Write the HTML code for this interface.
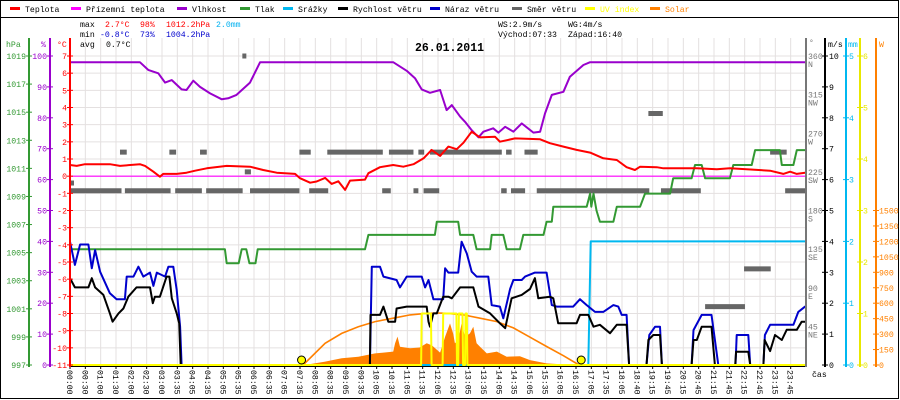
<!DOCTYPE html>
<html><head><meta charset="utf-8">
<style>
html,body{margin:0;padding:0;background:#fff;}
svg{display:block;font-family:"Liberation Mono",monospace;}
</style></head>
<body>
<svg id="chart" width="900" height="400" viewBox="0 0 900 400" xmlns="http://www.w3.org/2000/svg">
<rect x="0.5" y="0.5" width="898" height="398" fill="#fff" stroke="#000"/>
<line x1="0" y1="17.5" x2="899" y2="17.5" stroke="#000"/>
<g id="grid"></g>
<g id="solar"></g>
<g id="series"></g>
<g id="axes"></g>
<g id="legend" font-size="8.2"></g>
<g font-size="8.2">
<text x="80" y="27">max</text><text x="105" y="27" fill="#f00">2.7°C</text><text x="140" y="27" fill="#f00">98%</text><text x="166" y="27" fill="#f00">1012.2hPa</text><text x="216" y="27" fill="#00b0f0">2.0mm</text>
<text x="80" y="37">min</text><text x="100" y="37" fill="#00c">-0.8°C</text><text x="140" y="37" fill="#00c">73%</text><text x="166" y="37" fill="#00c">1004.2hPa</text>
<text x="80" y="47">avg</text><text x="106" y="47">0.7°C</text>
<text x="498" y="27">WS:2.9m/s</text><text x="568" y="27">WG:4m/s</text>
<text x="498" y="37">Východ:07:33</text><text x="568" y="37">Západ:16:40</text>
</g>
<text x="415" y="51" font-size="11.5" font-weight="bold">26.01.2011</text>
</svg>
<script>
const xLabels=["00:00","00:30","01:00","01:30","02:00","02:30","03:00","03:35","04:05","04:35","05:05","05:35","06:05","06:35","07:05","07:35","08:05","08:35","09:05","09:35","10:05","10:35","11:05","11:35","12:05","12:35","13:05","13:35","14:05","14:35","15:05","15:35","16:05","16:35","17:05","17:35","18:05","18:40","19:15","19:45","20:15","20:45","21:15","21:45","22:15","22:45","23:15","23:45"];
const tempT=[0,0.22,0.49,1.3,1.63,2.28,2.45,2.72,2.93,3.04,3.48,3.8,4.08,4.46,5.11,5.87,6.3,6.74,7.34,7.5,7.83,8.04,8.32,8.53,8.75,8.97,9.13,9.62,9.73,10.11,10.54,10.87,11.2,11.53,11.79,12.07,12.34,12.61,12.83,13.1,13.37,13.86,14.02,14.51,15.33,15.65,16.09,16.52,16.96,17.39,17.83,18.15,18.42,18.59,19.13,19.35,20.44,21.09,21.52,22.83,23.26,23.48,23.7,23.97];
const tempV=[0.65,0.6,0.7,0.7,0.6,0.7,0.6,0.26,-0.03,0.13,0.13,0.2,0.32,0.46,0.6,0.55,0.36,0.2,0.13,-0.12,-0.38,-0.31,-0.1,-0.45,-0.3,-0.8,-0.26,-0.2,0.17,0.52,0.65,0.55,0.7,1.04,1.53,1.18,1.72,1.57,1.95,2.59,2.26,2.3,2.01,2.2,2.15,1.92,1.72,1.53,1.37,1.04,0.94,0.52,0.36,0.55,0.52,0.46,0.46,0.4,0.46,0.32,0.13,0.26,0.13,0.2];
const feelT=[0,24];
const feelV=[0,0];
const humT=[0,2.28,2.55,2.88,3.1,3.32,3.64,3.8,4.02,4.24,4.57,4.95,5.16,5.43,5.87,6.2,10.54,10.98,11.25,11.47,11.74,12.07,12.28,12.45,12.72,12.88,13.1,13.32,13.48,13.8,13.97,14.19,14.46,14.73,15.11,15.33,15.49,15.71,16.09,16.3,16.74,16.96,24];
const humV=[98,98,95.5,94.4,91.4,92.2,89.2,89,92,90,87.9,86,86.3,87.4,91.4,98,98,95.2,92.8,89.2,88.1,89,82.5,84.1,80.4,78.7,76,73.7,75.5,76.6,75.2,77.1,75.5,78.2,75.2,75.5,81.4,87.4,88.4,93.3,97.1,98,98];
const presT=[0,5.05,5.11,5.5,5.6,5.75,5.85,6.05,6.12,9.62,9.73,11.9,11.96,12.66,12.72,13.15,13.26,13.7,13.75,14.13,14.24,14.67,14.78,15.44,15.54,15.71,15.76,16.85,16.96,17.0,17.07,17.17,17.28,17.72,17.83,18.59,18.75,19.57,19.67,20.27,20.38,20.6,20.71,21.52,21.63,22.23,22.34,23.15,23.21,23.59,23.7,24];
const presV=[1005.24,1005.24,1004.25,1004.25,1005.24,1005.24,1004.25,1004.25,1005.24,1005.24,1006.26,1006.26,1007.2,1007.2,1006.26,1006.26,1005.24,1005.24,1006.26,1006.26,1005.24,1005.24,1006.26,1006.26,1007.2,1007.2,1008.27,1008.27,1009.2,1008.27,1009.2,1008.0,1007.2,1007.2,1008.27,1008.27,1009.2,1009.2,1010.3,1010.3,1011.24,1011.24,1010.3,1010.3,1011.24,1011.24,1012.3,1012.3,1011.24,1011.24,1012.3,1012.3];
const rainT=[0,16.9,16.98,24];
const rainV=[0,0,2.0,2.0];
const windT=[0,0.16,0.6,0.71,0.82,1.09,1.3,1.39,1.58,1.74,1.9,2.17,2.61,2.7,2.77,2.93,3.15,3.24,3.32,3.48,3.56,3.61,9.78,9.8,10.11,10.22,10.38,10.6,10.65,10.98,11.63,11.69,11.74,11.85,11.96,12.17,12.34,12.45,12.72,13.15,13.32,13.7,14.02,14.19,14.4,14.73,15.0,15.16,15.27,15.65,15.76,15.92,16.52,16.63,16.9,17.07,17.28,17.61,17.83,18.15,18.23,18.8,18.86,19.02,19.24,19.3,20.27,20.33,20.44,20.6,20.92,21.03,21.69,21.72,22.12,22.18,22.61,22.65,22.83,22.99,23.21,23.37,23.7,23.86,24];
const windV=[2.81,2.51,2.51,2.81,2.51,2.27,1.67,1.4,1.67,1.83,2.21,2.51,2.51,2.0,2.21,2.21,2.86,2.86,2.16,1.67,1.35,0,0,1.62,1.62,1.89,1.4,1.4,1.83,1.89,1.89,1.4,1.24,1.67,1.67,2.21,2.21,2.16,2.51,2.51,1.89,1.67,1.35,1.19,2.16,2.27,2.46,2.81,2.16,2.21,2.16,1.35,1.35,1.62,1.62,1.24,1.3,1.03,1.3,1.3,0,0,0.81,0.97,0.97,0,0,0.81,0.81,1.24,1.24,0,0,0.43,0.43,0,0,0.81,0.45,0.97,0.81,1.14,1.14,1.4,1.4];
const gustT=[0,0.16,0.33,0.6,0.71,0.82,0.98,1.3,1.52,1.79,1.85,2.07,2.23,2.39,2.61,2.72,2.83,3.1,3.21,3.37,3.48,3.59,3.64,9.78,9.84,10.11,10.22,10.65,10.76,10.98,11.47,11.58,11.69,11.85,12.17,12.23,12.34,12.66,12.77,12.94,13.1,13.26,13.64,13.75,14.02,14.13,14.35,14.46,14.73,14.84,15.16,15.54,15.71,15.87,16.41,16.63,16.85,17.12,17.39,17.72,17.88,17.99,18.15,18.23,18.8,18.89,19.08,19.24,19.3,20.27,20.33,20.6,20.92,21.14,21.7,21.74,22.12,22.18,22.61,22.66,22.83,23.59,23.75,23.97,24];
const gustV=[3.99,3.24,3.9,3.9,3.13,3.72,3.02,2.32,2.13,2.13,2.86,2.86,3.18,2.86,2.99,2.56,2.99,2.86,3.18,3.18,2.43,1.24,0,0,3.18,3.18,2.86,2.75,2.51,2.86,2.86,2.51,2.75,2.13,2.13,3.13,2.99,2.99,3.99,3.61,3.02,2.86,2.86,1.94,1.89,1.51,2.46,2.75,2.75,2.86,2.99,2.99,1.94,1.89,1.89,2.13,1.94,1.72,1.72,1.94,1.89,1.62,1.62,0,0,0.97,1.24,1.24,0,0,1.13,1.62,1.62,0,0,0.97,0.97,0,0,0.97,1.3,1.3,1.72,1.89,1.89];
const dirStart=[1.63,3.24,4.24,7.48,8.39,10.4,11.36,11.74,14.22,14.82,0,1.79,3.43,4.44,5.87,7.8,10.18,11.2,11.53,14.06,14.38,15.22,19.27,23.32,5.7,5.62,18.86,21.98,20.71,22.83,0];
const dirEnd=[1.85,3.46,4.46,7.85,10.2,11.2,11.55,14.08,14.4,15.25,1.68,3.28,4.3,5.63,7.48,8.42,10.46,11.36,12.04,14.24,14.84,18.89,20.57,24.0,5.9,5.75,19.33,22.85,22.01,23.37,0.12];
const dirDeg=[248,248,248,248,248,248,248,248,248,248,203,203,203,203,203,203,203,203,203,203,203,203,203,203,225,360,293,112,68,248,212];
const uvT=[0,11.45,11.47,11.77,11.79,12.15,12.17,12.6,12.62,12.66,12.68,12.8,12.82,12.88,12.9,12.94,12.96,13.15,13.17,24];
const uvV=[0,0,1,1,0,0,1,1,0,0,1,1,0,0,1,1,0,0,0,0];
const solarT=[7.8,7.85,8.3,8.86,9.4,9.95,10.54,10.6,10.68,10.76,11.09,11.4,11.63,11.8,12.07,12.23,12.39,12.5,12.55,12.66,12.77,12.88,13.04,13.15,13.26,13.37,13.59,13.92,14.24,14.67,15.0,15.54,16.41];
const solarV=[0,10,32,65,81,113,130,211,276,178,162,170,211,190,120,275,404,300,211,240,404,275,307,372,211,178,113,130,81,85,48,16,0];
const solarMaxT=[7.6,8.32,8.86,9.4,9.95,10.54,11.09,11.63,12.0,12.28,12.83,13.37,13.92,14.46,15.0,15.54,16.09,16.6];
const solarMaxV=[0,211,307,372,421,454,486,502,505,502,486,454,421,360,270,180,90,0];
const sunT=[7.55,16.67];

const NS="http://www.w3.org/2000/svg";
const X0=70,XW=736,TOP=56,BOT=365;
const xs=h=>X0+h*XW/24;
const yT=v=>TOP+(7-v)*(BOT-TOP)/18;
const yH=v=>BOT-v*(BOT-TOP)/100;
const yP=v=>TOP+(1019-v)*(BOT-TOP)/22;
const yW=v=>BOT-v*(BOT-TOP)/10;
const yD=v=>BOT-v*(BOT-TOP)/360;
const yR=v=>BOT-v*(BOT-TOP)/5;
const yU=v=>BOT-v*(BOT-TOP)/6;
const yS=v=>BOT-v*(BOT-TOP)/3000;
function mk(tag,attrs,parent){const e=document.createElementNS(NS,tag);for(const k in attrs)e.setAttribute(k,attrs[k]);parent.appendChild(e);return e;}
const grid=document.getElementById('grid'),axes=document.getElementById('axes'),ser=document.getElementById('series'),sol=document.getElementById('solar'),leg=document.getElementById('legend');

// grid
for(let i=0;i<=48;i++){const x=X0+i*XW/48;const l=mk('line',{x1:x,y1:38,x2:x,y2:BOT,stroke:'#e4e0e0','stroke-width':1},grid);

}
for(let v=-11;v<=7;v++){const y=yT(v);const l=mk('line',{x1:X0,y1:y,x2:806,y2:y,stroke:'#e4e0e0','stroke-width':1},grid);

}

function pts(T,V,fy){return T.map((t,i)=>xs(t).toFixed(1)+','+fy(V[i]).toFixed(1)).join(' ');}
function line(T,V,fy,color,name,w){const p=mk('polyline',{points:pts(T,V,fy),fill:'none',stroke:color,'stroke-width':w||2,'stroke-linejoin':'round'},ser);

return p;}

// solar
let sp='M'+xs(solarT[0])+','+BOT+' L'+pts(solarT,solarV,yS)+' L'+xs(solarT[solarT.length-1])+','+BOT+' Z';
const sa=mk('path',{d:sp,fill:'#ff8000',stroke:'none'},sol);


const sm=mk('polyline',{points:pts(solarMaxT,solarMaxV,yS),fill:'none',stroke:'#ff8000','stroke-width':1.6},sol);



// wind direction dashes
for(let i=0;i<dirStart.length;i++){const r=mk('rect',{x:xs(dirStart[i]),y:yD(dirDeg[i])-2.5,width:Math.max(4,xs(dirEnd[i])-xs(dirStart[i])),height:5,fill:'#666'},ser);

}

line(feelT,feelV,yT,'#ff00ff','feels-like-line',1.2);
line(presT,presV,yP,'#339933','pressure-line');
line(humT,humV,yH,'#9900cc','humidity-line');
line(tempT,tempV,yT,'#ff0000','temperature-line');
line(rainT,rainV,yR,'#00b8f0','rain-line');
line(gustT,gustV,yW,'#0000cc','wind-gust-line');
line(windT,windV,yW,'#000','wind-speed-line');
line(uvT,uvV,yU,'#ffff00','uv-index-line');
sunT.forEach((t,i)=>{const c=mk('circle',{cx:xs(t),cy:360,r:4,fill:'#ffff00',stroke:'#000','stroke-width':1},ser);

});

// bottom axis
const ba=mk('line',{x1:X0,y1:366.5,x2:806,y2:366.5,stroke:'#000','stroke-width':1},axes);


xLabels.forEach((s,i)=>{const x=X0+i*XW/48;
const tk=mk('line',{x1:x,y1:366,x2:x,y2:369,stroke:'#000'},axes);


const t=mk('text',{x:0,y:0,'font-size':8.2,transform:`translate(${x-3},370) rotate(90)`},axes);t.textContent=s;

});
const cas=mk('text',{x:812,y:377,'font-size':8.2,fill:'#000'},axes);cas.textContent='čas';



function vaxis(x,color,name,title,tx,ticks,fy,anchor,lx){const l=mk('line',{x1:x,y1:38,x2:x,y2:BOT+2,stroke:color,'stroke-width':2},axes);


const tt=mk('text',{x:tx,y:47,'font-size':8.2,fill:color},axes);tt.textContent=title;


ticks.forEach(v=>{const y=fy(v);const tk=mk('line',{x1:x-3,y1:y,x2:x+3,y2:y,stroke:color},axes);


const t=mk('text',{x:lx,y:y+3,'font-size':8.2,fill:color,'text-anchor':anchor},axes);t.textContent=String(v);

});}
const presTicks=[1019,1017,1015,1013,1011,1009,1007,1005,1003,1001,999,997];
const humTicks=[100,90,80,70,60,50,40,30,20,10,0];
const tempTicks=[7,6,5,4,3,2,1,0,-1,-2,-3,-4,-5,-6,-7,-8,-9,-10,-11];
const windTicks=[0,1,2,3,4,5,6,7,8,9,10];
const rainTicks=[0,1,2,3,4,5];
const uvTicks=[0,1,2,3,4,5,6];
const solarTicks=[0,150,300,450,600,750,900,1050,1200,1350,1500];
vaxis(29,'#339933','pressure-axis','hPa',6,presTicks,yP,'end',26);
vaxis(50,'#9900cc','humidity-axis','%',41,humTicks,yH,'end',47);
vaxis(70,'#ff0000','temperature-axis','°C',57,tempTicks,yT,'end',67);
vaxis(825,'#000','wind-speed-axis','m/s',828,windTicks,yW,'start',829);
vaxis(846,'#00b8f0','rain-axis','mm',848,rainTicks,yR,'start',849);
vaxis(860,'#e8e800','uv-axis','',862,uvTicks,yU,'start',863);
vaxis(876,'#ff8000','solar-axis','W',879,solarTicks,yS,'start',879);
// direction axis
const dirTicks=[360,315,270,225,180,135,90,45];
const dirNames=['N','NW','W','SW','S','SE','E','NE'];
const da=mk('line',{x1:806,y1:38,x2:806,y2:BOT+2,stroke:'#777','stroke-width':2},axes);


const dt=mk('text',{x:809,y:45,'font-size':8,fill:'#777'},axes);dt.textContent='°';


dirTicks.forEach((v,i)=>{const y=yD(v);
const t=mk('text',{x:808,y:y+3,'font-size':8.2,fill:'#777'},axes);t.textContent=v;


const n=mk('text',{x:808,y:y+11,'font-size':8.2,fill:'#777'},axes);n.textContent=dirNames[i];

});

// legend
const legNames=['Teplota','Přízemní teplota','Vlhkost','Tlak','Srážky','Rychlost větru','Náraz větru','Směr větru','UV index','Solar'];
const legColors=['#f00','#f0f','#9900cc','#339933','#00b8f0','#000','#0000cc','#666','#ffff00','#ff8000'];
const legX=[10,71,177,240,283,338,430,512,585,650];
legNames.forEach((s,i)=>{const r=mk('rect',{x:legX[i],y:7,width:10,height:3,fill:legColors[i]},leg);


const t=mk('text',{x:legX[i]+15,y:12,fill:i>=8?legColors[i]:'#000'},leg);t.textContent=s;

});
</script>
</body></html>
